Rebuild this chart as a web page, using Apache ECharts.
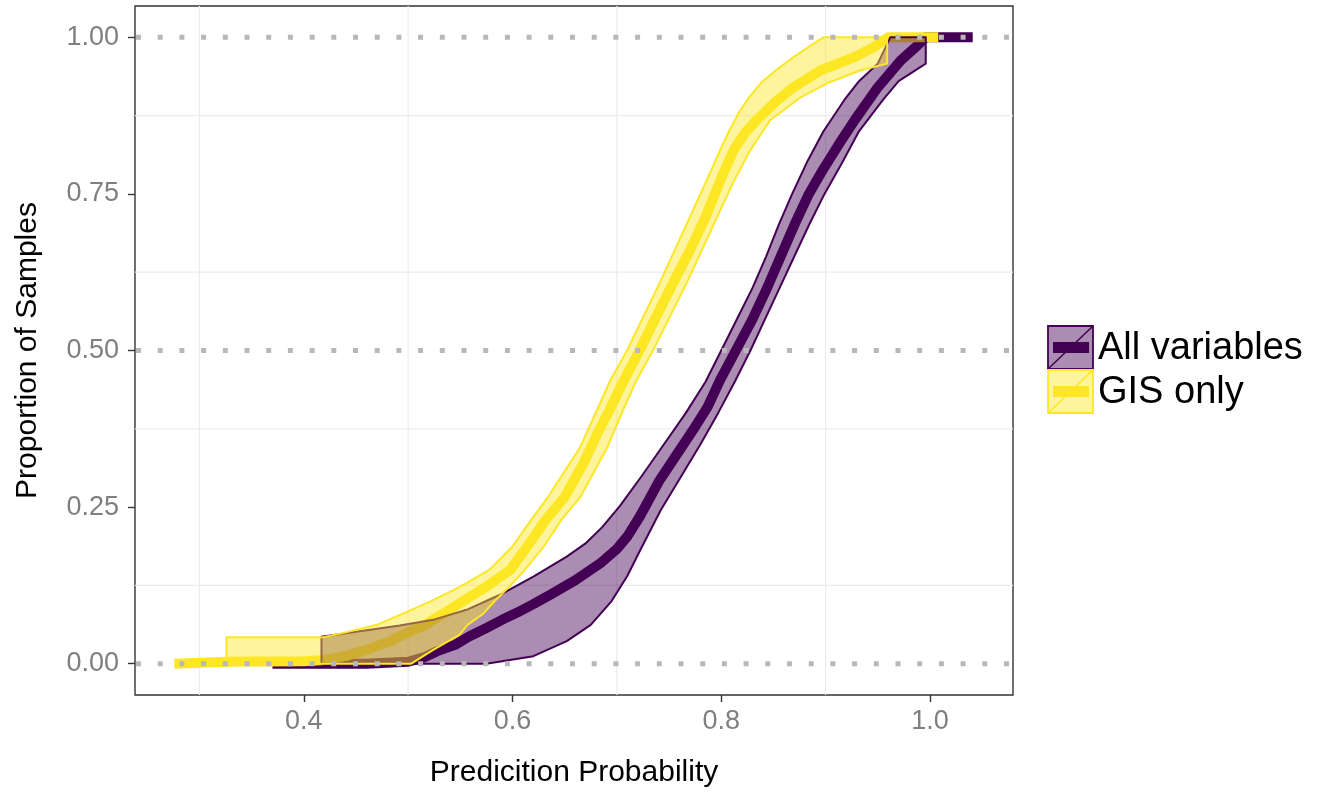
<!DOCTYPE html>
<html>
<head>
<meta charset="utf-8">
<script src="https://cdn.jsdelivr.net/npm/echarts@6/dist/echarts.min.js"></script>
<style>
html,body{margin:0;padding:0;background:#fff;}
#chart{width:1318px;height:794px;}
</style>
</head>
<body>
<div id="chart"></div>
<script>
// ---------------- DATA ----------------
const seriesNames = ['All variables', 'GIS only'];

// ECDF centre line: "All variables" (purple)
const purpleLineX = [0.370, 0.460, 0.500, 0.515, 0.528, 0.545, 0.558, 0.575, 0.590, 0.605, 0.620, 0.636, 0.660, 0.684, 0.700, 0.710, 0.722, 0.741, 0.757, 0.773, 0.787, 0.799, 0.814, 0.830, 0.844, 0.857, 0.870, 0.884, 0.898, 0.913, 0.928, 0.950, 0.972, 0.988, 0.996, 1.041];
const purpleLineY = [0.000, 0.000, 0.003, 0.010, 0.020, 0.030, 0.043, 0.057, 0.070, 0.082, 0.095, 0.110, 0.133, 0.160, 0.183, 0.203, 0.235, 0.293, 0.333, 0.373, 0.410, 0.453, 0.500, 0.550, 0.600, 0.650, 0.700, 0.750, 0.790, 0.830, 0.868, 0.920, 0.963, 0.987, 1.000, 1.000];

// confidence band of "All variables": left (upper) and right (lower) outlines
const purpleBandLeftY = [0.000, 0.043, 0.061, 0.070, 0.086, 0.110, 0.139, 0.171, 0.192, 0.218, 0.252, 0.300, 0.350, 0.400, 0.450, 0.500, 0.550, 0.600, 0.650, 0.700, 0.750, 0.800, 0.850, 0.900, 0.930, 0.958, 1.000];
const purpleBandLeftX = [0.417, 0.417, 0.492, 0.524, 0.556, 0.588, 0.620, 0.652, 0.670, 0.686, 0.703, 0.724, 0.745, 0.766, 0.785, 0.800, 0.815, 0.830, 0.843, 0.855, 0.868, 0.882, 0.898, 0.918, 0.932, 0.950, 0.962];
const purpleBandRightY = [0.000, 0.012, 0.036, 0.062, 0.100, 0.140, 0.180, 0.245, 0.300, 0.350, 0.400, 0.450, 0.500, 0.550, 0.600, 0.650, 0.700, 0.750, 0.800, 0.850, 0.900, 0.930, 0.958, 1.000];
const purpleBandRightX = [0.575, 0.620, 0.652, 0.675, 0.695, 0.710, 0.722, 0.742, 0.762, 0.780, 0.797, 0.813, 0.828, 0.842, 0.856, 0.870, 0.884, 0.899, 0.916, 0.932, 0.955, 0.970, 0.996, 0.996];

// ECDF centre line: "GIS only" (yellow)
const yellowLineX = [0.276, 0.326, 0.400, 0.420, 0.440, 0.460, 0.480, 0.495, 0.516, 0.532, 0.553, 0.575, 0.598, 0.614, 0.632, 0.650, 0.668, 0.683, 0.693, 0.707, 0.722, 0.738, 0.754, 0.770, 0.785, 0.800, 0.812, 0.823, 0.834, 0.852, 0.869, 0.895, 0.927, 0.946, 0.960, 1.008];
const yellowLineY = [0.000, 0.003, 0.004, 0.006, 0.012, 0.022, 0.034, 0.046, 0.062, 0.078, 0.100, 0.123, 0.150, 0.187, 0.230, 0.266, 0.320, 0.373, 0.405, 0.453, 0.501, 0.555, 0.608, 0.660, 0.713, 0.775, 0.820, 0.848, 0.868, 0.897, 0.920, 0.947, 0.968, 0.984, 1.000, 1.000];

// confidence band of "GIS only"
const yellowBandLeftY = [0.000, 0.042, 0.042, 0.050, 0.062, 0.080, 0.100, 0.123, 0.150, 0.187, 0.230, 0.266, 0.346, 0.405, 0.453, 0.501, 0.608, 0.713, 0.790, 0.820, 0.852, 0.880, 0.905, 0.927, 0.947, 0.968, 0.985, 1.000];
const yellowBandLeftX = [0.326, 0.326, 0.418, 0.440, 0.470, 0.495, 0.522, 0.550, 0.578, 0.600, 0.618, 0.634, 0.665, 0.681, 0.694, 0.710, 0.741, 0.770, 0.791, 0.799, 0.808, 0.817, 0.827, 0.838, 0.852, 0.869, 0.884, 0.898];
const yellowBandRightY = [0.000, 0.022, 0.046, 0.062, 0.080, 0.100, 0.123, 0.150, 0.187, 0.230, 0.266, 0.346, 0.405, 0.453, 0.501, 0.608, 0.713, 0.770, 0.820, 0.868, 0.904, 0.927, 0.947, 0.958, 1.000];
const yellowBandRightX = [0.503, 0.524, 0.549, 0.557, 0.572, 0.583, 0.597, 0.612, 0.630, 0.647, 0.665, 0.691, 0.706, 0.719, 0.735, 0.767, 0.796, 0.812, 0.828, 0.847, 0.876, 0.902, 0.933, 0.959, 0.959];

// axes
const xTickValues = [0.4, 0.6, 0.8, 1.0];
const xTickLabels = ['0.4', '0.6', '0.8', '1.0'];
const yTickValues = [0, 0.25, 0.5, 0.75, 1];
const yTickLabels = ['0.00', '0.25', '0.50', '0.75', '1.00'];
const xGridValues = [0.3, 0.5, 0.7, 0.9];
const yGridValues = [0.125, 0.375, 0.625, 0.875];
const refLineValues = [0, 0.5, 1];

// ---------------- STYLE ----------------
const PURPLE = '#440154';
const YELLOW = '#FDE725';
const PURPLE_FILL = 'rgba(68,1,84,0.45)';
const YELLOW_FILL = 'rgba(253,231,37,0.45)';
const X_MIN = 0.2383, X_MAX = 1.0796;
const Y_MIN = -0.05, Y_MAX = 1.05;
const FONT = 'Liberation Sans, Arial, sans-serif';

function zip(xs, ys) { return xs.map((x, i) => [x, ys[i]]); }
function pick(values, labels) {
  return v => { const i = values.findIndex(t => Math.abs(t - v) < 1e-9); return i >= 0 ? labels[i] : ''; };
}

function ribbonSeries(name, lx, ly, rx, ry, fill, stroke) {
  return {
    name: name, type: 'custom', z: 3, silent: true,
    data: [[0.6, 0.5]],
    renderItem: function (params, api) {
      const pts = [];
      for (let i = 0; i < lx.length; i++) pts.push(api.coord([lx[i], ly[i]]));
      for (let i = rx.length - 1; i >= 0; i--) pts.push(api.coord([rx[i], ry[i]]));
      return { type: 'polygon', shape: { points: pts },
        style: { fill: fill, stroke: stroke, lineWidth: 2, lineJoin: 'round' } };
    }
  };
}

const chart = echarts.init(document.getElementById('chart'), null, { renderer: 'canvas' });

const option = {
  backgroundColor: '#ffffff',
  animation: false,
  grid: { left: 135, right: 305, top: 6, bottom: 99, show: true, borderColor: '#333333', borderWidth: 1.4, backgroundColor: 'transparent' },
  xAxis: {
    type: 'value', min: X_MIN, max: X_MAX,
    name: 'Predicition Probability', nameLocation: 'middle', nameGap: 63,
    nameTextStyle: { color: '#000', fontSize: 30, fontFamily: FONT },
    axisLine: { show: false, onZero: false },
    axisTick: { show: true, customValues: xTickValues, length: 7, lineStyle: { color: '#333', width: 1.4 } },
    axisLabel: { customValues: xTickValues, formatter: pick(xTickValues, xTickLabels), color: '#7f7f7f', fontSize: 27, fontFamily: FONT, margin: 13 },
    splitLine: { show: false }
  },
  yAxis: {
    type: 'value', min: Y_MIN, max: Y_MAX,
    name: 'Proportion of Samples', nameLocation: 'middle', nameGap: 92, nameRotate: 90,
    nameTextStyle: { color: '#000', fontSize: 30, fontFamily: FONT },
    axisLine: { show: false, onZero: false },
    axisTick: { show: true, customValues: yTickValues, length: 7, lineStyle: { color: '#333', width: 1.4 } },
    axisLabel: { customValues: yTickValues, formatter: pick(yTickValues, yTickLabels), color: '#7f7f7f', fontSize: 27, fontFamily: FONT, margin: 16 },
    splitLine: { show: false }
  },
  series: [
    { type: 'custom', z: 1, silent: true, data: xGridValues.map(v => [v, 0.5]),
      renderItem: function (params, api) {
        const cs = params.coordSys; const p = api.coord([api.value(0), api.value(1)]);
        return { type: 'line', shape: { x1: p[0], y1: cs.y, x2: p[0], y2: cs.y + cs.height }, style: { stroke: '#ececec', lineWidth: 1.2 } };
      } },
    { type: 'custom', z: 1, silent: true, data: yGridValues.map(v => [0.6, v]),
      renderItem: function (params, api) {
        const cs = params.coordSys; const p = api.coord([api.value(0), api.value(1)]);
        return { type: 'line', shape: { x1: cs.x, y1: p[1], x2: cs.x + cs.width, y2: p[1] }, style: { stroke: '#ececec', lineWidth: 1.2 } };
      } },
    { name: seriesNames[0], type: 'line', z: 2, data: zip(purpleLineX, purpleLineY), showSymbol: false, silent: true,
      lineStyle: { color: PURPLE, width: 10, cap: 'butt', join: 'round' } },
    { name: seriesNames[1], type: 'line', z: 2, data: zip(yellowLineX, yellowLineY), showSymbol: false, silent: true,
      lineStyle: { color: YELLOW, width: 10, cap: 'butt', join: 'round' } },
    ribbonSeries(seriesNames[0] + ' band', purpleBandLeftX, purpleBandLeftY, purpleBandRightX, purpleBandRightY, PURPLE_FILL, PURPLE),
    ribbonSeries(seriesNames[1] + ' band', yellowBandLeftX, yellowBandLeftY, yellowBandRightX, yellowBandRightY, YELLOW_FILL, YELLOW),
    { type: 'custom', z: 6, silent: true, data: refLineValues.map(v => [0.6, v]),
      renderItem: function (params, api) {
        const cs = params.coordSys; const p = api.coord([api.value(0), api.value(1)]);
        return { type: 'line', shape: { x1: cs.x + 1, y1: p[1], x2: cs.x + cs.width, y2: p[1] },
          style: { stroke: '#b8b8b8', lineWidth: 5, lineDash: [5, 16.7], lineCap: 'butt' } };
      } }
  ],
  graphic: [
    { type: 'rect', shape: { x: 1048, y: 326, width: 45, height: 43 }, style: { fill: PURPLE_FILL, stroke: PURPLE, lineWidth: 1.8 } },
    { type: 'line', shape: { x1: 1048, y1: 369, x2: 1093, y2: 326 }, style: { stroke: PURPLE, lineWidth: 1.6 } },
    { type: 'rect', shape: { x: 1053, y: 342, width: 36, height: 11 }, style: { fill: PURPLE } },
    { type: 'rect', shape: { x: 1048, y: 370, width: 45, height: 43 }, style: { fill: YELLOW_FILL, stroke: YELLOW, lineWidth: 1.8 } },
    { type: 'line', shape: { x1: 1048, y1: 413, x2: 1093, y2: 370 }, style: { stroke: YELLOW, lineWidth: 1.6 } },
    { type: 'rect', shape: { x: 1053, y: 386, width: 36, height: 11 }, style: { fill: YELLOW } },
    { type: 'text', x: 1098, y: 349, style: { text: seriesNames[0], fill: '#000', fontSize: 38, fontFamily: FONT, textVerticalAlign: 'middle', verticalAlign: 'middle' } },
    { type: 'text', x: 1098, y: 393, style: { text: seriesNames[1], fill: '#000', fontSize: 38, fontFamily: FONT, textVerticalAlign: 'middle', verticalAlign: 'middle' } }
  ]
};
chart.setOption(option);
</script>
</body>
</html>
